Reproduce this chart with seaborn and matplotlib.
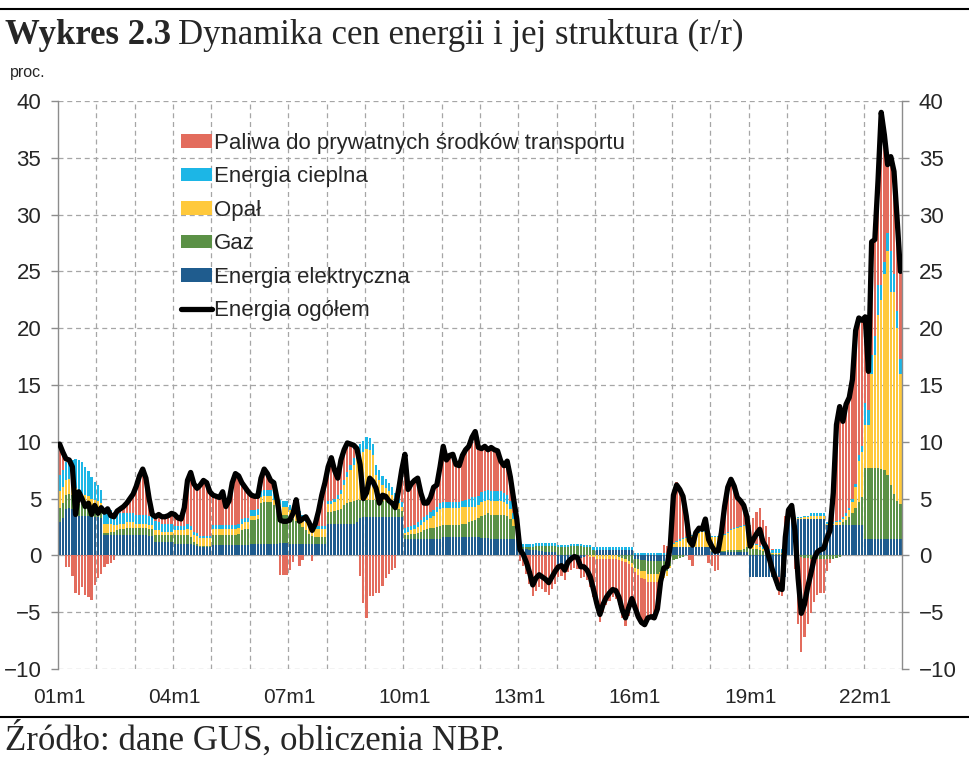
import numpy as np
import pandas as pd
import matplotlib
matplotlib.use("Agg")
import matplotlib.pyplot as plt
import seaborn as sns
from matplotlib.patches import Patch
from matplotlib.lines import Line2D

# monthly data 2001m1 - 2022m12, one row per year
total = [
    9.8, 9.1, 8.5, 8.4, 7.8, 3.6, 5.6, 5.0, 4.3, 4.6, 3.6, 4.4,
    3.7, 4.2, 3.8, 4.1, 3.5, 3.4, 3.9, 4.1, 4.3, 4.6, 5.0, 5.4,
    6.1, 7.0, 7.6, 6.8, 5.0, 3.6, 3.4, 3.6, 3.4, 3.4, 3.5, 3.7,
    3.6, 3.3, 3.2, 4.2, 6.6, 7.3, 6.3, 5.9, 6.2, 6.6, 6.4, 5.6,
    5.3, 5.2, 5.1, 5.6, 4.3, 4.8, 6.4, 7.2, 7.0, 6.4, 6.0, 5.6,
    5.3, 5.2, 5.2, 6.8, 7.6, 7.2, 6.6, 6.4, 5.0, 3.1, 3.0, 3.0,
    3.1, 3.7, 4.9, 3.0, 3.2, 3.4, 2.9, 2.2, 2.8, 3.9, 5.3, 6.4,
    7.8, 8.6, 7.5, 6.8, 8.4, 9.3, 9.9, 9.8, 9.7, 9.4, 8.0, 5.0,
    5.5, 6.8, 6.5, 5.9, 4.6, 5.3, 5.2, 4.8, 4.6, 4.2, 5.7, 7.5,
    8.9, 5.8, 6.3, 6.6, 6.8, 5.5, 4.6, 4.6, 5.1, 6.0, 6.2, 7.8,
    9.6, 8.4, 8.8, 8.9, 8.0, 7.9, 8.8, 9.3, 9.6, 10.4, 10.9, 9.5,
    9.4, 9.6, 9.3, 9.5, 9.3, 9.2, 8.3, 7.9, 8.3, 6.9, 5.0, 3.2,
    0.5, 0.1, -0.6, -1.5, -2.6, -2.0, -1.7, -1.9, -2.1, -2.4, -1.9, -1.4,
    -1.0, -0.9, -1.3, -0.6, -0.3, -0.1, -0.2, -1.0, -1.0, -1.3, -1.9, -3.0,
    -4.2, -5.2, -4.3, -3.7, -3.3, -3.0, -3.1, -3.7, -4.8, -5.5, -4.6, -3.8,
    -4.6, -5.4, -5.9, -6.1, -5.5, -5.4, -5.5, -4.7, -2.3, -1.1, -1.0, 0.8,
    5.3, 6.2, 5.8, 5.2, 3.5, 1.3, 0.9, 2.0, 2.4, 2.3, 3.2, 1.4,
    0.8, 0.35, 0.4, 2.0, 4.3, 6.0, 6.7, 6.1, 5.1, 4.8, 4.4, 3.4,
    0.8, 1.4, 1.9, 2.3, 1.2, 0.7, -0.3, -1.3, -2.1, -2.9, -3.0, 1.6,
    4.0, 4.4, 2.2, -2.0, -5.1, -4.3, -2.8, -1.6, -0.3, 0.3, 0.5, 0.6,
    1.5, 2.2, 5.5, 11.5, 13.1, 11.8, 13.3, 13.9, 15.5, 19.8, 20.9, 20.7,
    21.0, 16.2, 27.6, 27.8, 33.0, 39.0, 37.0, 34.4, 35.1, 33.8, 29.5, 25.0,
]

elektryczna = [
    2.9, 3.3, 4.1, 4.2, 4.1, 3.6, 3.5, 3.5, 3.5, 3.5, 3.4, 3.4,
    3.4, 3.3, 1.8, 1.8, 1.8, 1.8, 1.8, 1.8, 1.8, 1.8, 1.8, 1.8,
    1.8, 1.8, 1.8, 1.8, 1.7, 1.7, 1.2, 1.2, 1.2, 1.2, 1.2, 1.2,
    1.0, 1.0, 1.0, 1.0, 1.0, 1.0, 0.9, 0.8, 0.7, 0.7, 0.7, 0.7,
    0.9, 0.9, 0.9, 0.9, 0.9, 0.9, 0.9, 0.9, 0.9, 0.9, 0.9, 0.9,
    1.0, 1.0, 1.0, 1.0, 1.0, 1.0, 1.0, 1.0, 1.0, 1.1, 1.1, 1.1,
    1.0, 1.0, 1.0, 1.0, 1.0, 1.0, 1.0, 1.0, 1.0, 1.0, 1.0, 1.0,
    2.8, 2.8, 2.8, 2.8, 2.8, 2.8, 2.8, 2.8, 2.8, 2.9, 3.3, 3.4,
    3.4, 3.4, 3.4, 3.4, 3.4, 3.4, 3.4, 3.4, 3.4, 3.4, 3.4, 3.4,
    1.4, 1.4, 1.4, 1.4, 1.4, 1.4, 1.4, 1.4, 1.4, 1.4, 1.4, 1.4,
    1.6, 1.6, 1.6, 1.6, 1.6, 1.6, 1.6, 1.6, 1.6, 1.6, 1.6, 1.6,
    1.5, 1.5, 1.5, 1.4, 1.4, 1.4, 1.4, 1.4, 1.4, 1.4, 1.4, 1.4,
    0.6, 0.6, 0.6, 0.5, 0.5, 0.5, 0.4, 0.4, 0.3, 0.3, 0.3, 0.3,
    -0.8, -0.9, -0.9, -0.9, -0.6, -0.3, -0.2, -0.2, -0.1, 0.0, 0.0, 0.0,
    0.5, 0.5, 0.5, 0.5, 0.5, 0.5, 0.5, 0.5, 0.5, 0.5, 0.5, 0.5,
    -0.3, -0.3, -0.4, -0.4, -0.5, -0.5, -0.5, -0.5, -0.5, -0.5, -0.5, -0.3,
    0.7, 0.7, 0.7, 0.7, 0.7, 0.7, 0.7, 0.7, 0.7, 0.7, 0.7, 0.7,
    0.3, 0.3, 0.3, 0.3, 0.3, 0.3, 0.3, 0.3, 0.3, 0.3, 0.3, 0.3,
    -1.9, -1.9, -1.9, -1.9, -1.9, -1.9, -1.9, -1.9, -1.9, -1.9, -1.9, -1.9,
    3.2, 3.2, 3.2, 3.2, 3.2, 3.2, 3.2, 3.2, 3.2, 3.2, 3.2, 3.2,
    2.7, 2.7, 2.7, 2.7, 2.7, 2.7, 2.7, 2.7, 2.7, 2.7, 2.7, 2.7,
    1.4, 1.4, 1.4, 1.4, 1.4, 1.4, 1.4, 1.4, 1.4, 1.4, 1.4, 1.4,
]

gaz = [
    1.3, 1.3, 1.2, 1.2, 1.2, 1.1, 1.0, 1.0, 1.0, 0.9, 0.9, 0.8,
    0.8, 0.7, 0.2, 0.2, 0.3, 0.3, 0.4, 0.5, 0.5, 0.6, 0.6, 0.6,
    0.6, 0.6, 0.6, 0.6, 0.6, 0.6, 0.6, 0.6, 0.6, 0.6, 0.6, 0.6,
    0.8, 0.8, 0.8, 0.8, 0.8, 0.6, 0.3, 0.2, 0.1, 0.1, 0.1, 0.1,
    0.9, 0.9, 0.9, 0.9, 0.9, 0.9, 0.9, 0.9, 1.0, 1.3, 1.4, 1.4,
    2.1, 2.1, 2.2, 3.6, 3.7, 3.7, 3.7, 3.4, 2.9, 2.6, 2.5, 2.5,
    2.3, 2.2, 2.0, 1.8, 1.5, 1.2, 0.9, 0.7, 0.6, 0.6, 0.6, 0.6,
    1.0, 1.0, 1.1, 1.2, 1.3, 1.6, 1.8, 1.9, 2.0, 2.0, 1.6, 1.5,
    1.5, 1.5, 1.5, 1.5, 1.5, 1.4, 1.4, 1.3, 1.2, 0.9, 0.7, 0.5,
    0.4, 0.4, 0.5, 0.5, 0.6, 0.7, 0.8, 0.9, 1.0, 1.0, 1.1, 1.2,
    1.1, 1.1, 1.1, 1.1, 1.1, 1.1, 1.2, 1.2, 1.3, 1.4, 1.5, 1.7,
    2.0, 2.1, 2.2, 2.2, 2.2, 2.2, 2.2, 2.2, 2.1, 1.8, 1.2, 1.0,
    0.1, 0.1, 0.1, 0.2, 0.2, 0.3, 0.4, 0.4, 0.5, 0.5, 0.5, 0.5,
    0.7, 0.7, 0.7, 0.7, 0.8, 0.8, 0.8, 0.8, 0.7, 0.7, 0.7, 0.5,
    0.0, 0.0, 0.0, 0.0, 0.0, 0.0, 0.0, -0.1, -0.2, -0.3, -0.5, -0.7,
    -0.8, -0.9, -1.0, -1.0, -1.1, -1.1, -1.1, -1.1, -1.0, -1.0, -0.9, -0.6,
    -0.4, -0.3, -0.2, -0.1, 0.0, 0.0, 0.0, 0.0, 0.0, 0.0, 0.0, 0.0,
    0.1, 0.1, 0.1, 0.1, 0.1, 0.2, 0.2, 0.2, 0.2, 0.2, 0.3, 0.4,
    0.6, 0.6, 0.6, 0.5, 0.4, 0.3, 0.2, 0.1, 0.1, 0.1, 0.1, 0.1,
    0.0, 0.0, 0.0, 0.0, -0.1, -0.2, -0.2, -0.3, -0.3, -0.3, -0.3, -0.3,
    -0.3, -0.3, -0.3, -0.2, -0.1, 0.2, 0.4, 0.7, 1.0, 1.5, 2.0, 2.4,
    6.3, 6.3, 6.3, 6.3, 6.3, 6.2, 6.1, 5.7, 4.8, 4.0, 3.4, 3.1,
]

opal = [
    1.5, 1.4, 1.3, 1.3, 1.3, 1.2, 0.9, 0.9, 0.8, 0.8, 0.7, 0.7,
    0.6, 0.6, 0.8, 0.8, 0.7, 0.6, 0.5, 0.5, 0.5, 0.5, 0.5, 0.5,
    0.4, 0.4, 0.4, 0.4, 0.4, 0.4, 0.4, 0.4, 0.3, 0.3, 0.3, 0.3,
    0.4, 0.4, 0.4, 0.4, 0.5, 0.6, 0.6, 0.7, 0.7, 0.7, 0.7, 0.7,
    0.5, 0.5, 0.5, 0.5, 0.5, 0.5, 0.5, 0.5, 0.5, 0.6, 0.6, 0.6,
    0.4, 0.4, 0.4, 0.5, 0.5, 0.5, 0.5, 0.5, 0.6, 0.7, 0.7, 0.7,
    0.7, 0.7, 0.7, 0.7, 0.7, 0.7, 0.7, 0.7, 0.7, 0.7, 0.7, 0.7,
    0.7, 0.7, 0.8, 1.0, 1.3, 1.8, 2.3, 2.8, 3.2, 3.6, 4.0, 4.2,
    4.5, 4.4, 3.9, 2.2, 1.7, 1.4, 1.1, 1.0, 0.7, 0.6, 0.5, 0.4,
    0.2, 0.3, 0.3, 0.4, 0.5, 0.6, 0.7, 0.8, 0.9, 1.1, 1.3, 1.5,
    1.5, 1.5, 1.5, 1.5, 1.5, 1.5, 1.5, 1.5, 1.4, 1.3, 1.2, 1.1,
    1.2, 1.2, 1.2, 1.2, 1.2, 1.2, 1.2, 1.1, 1.0, 0.9, 0.6, 0.4,
    0.0, 0.0, 0.0, 0.0, 0.0, 0.0, 0.0, 0.0, 0.0, 0.0, 0.0, 0.0,
    0.0, 0.0, 0.0, 0.0, 0.0, 0.0, 0.0, 0.0, 0.0, 0.0, -0.1, -0.1,
    -0.3, -0.3, -0.3, -0.3, -0.3, -0.3, -0.3, -0.3, -0.3, -0.3, -0.3, -0.3,
    -0.4, -0.5, -0.6, -0.7, -0.7, -0.7, -0.7, -0.7, -0.6, -0.5, -0.4, -0.2,
    0.3, 0.5, 0.6, 0.7, 0.8, 0.9, 1.0, 1.2, 1.3, 1.4, 1.4, 1.3,
    1.2, 1.2, 1.2, 1.3, 1.4, 1.5, 1.7, 1.8, 1.9, 2.0, 2.0, 1.5,
    0.4, 0.3, 0.3, 0.2, 0.2, 0.1, 0.1, 0.1, 0.1, 0.1, 0.1, 0.1,
    0.0, 0.0, 0.0, 0.1, 0.1, 0.2, 0.2, 0.3, 0.3, 0.3, 0.3, 0.3,
    0.1, 0.1, 0.1, 0.2, 0.2, 0.3, 0.4, 0.6, 1.0, 1.8, 3.6, 4.0,
    3.8, 3.8, 8.3, 9.9, 13.5, 14.9, 17.3, 19.7, 17.0, 17.8, 15.2, 11.5,
]

cieplna = [
    1.4, 1.5, 1.6, 1.7, 1.8, 2.6, 3.0, 2.8, 2.5, 2.2, 1.9, 1.6,
    1.4, 1.2, 1.3, 1.3, 1.2, 1.1, 1.0, 0.9, 0.9, 0.8, 0.8, 0.8,
    0.8, 0.8, 0.8, 0.8, 0.8, 0.8, 0.8, 0.7, 0.7, 0.7, 0.7, 0.7,
    0.4, 0.4, 0.4, 0.4, 0.5, 0.4, 0.3, 0.3, 0.2, 0.2, 0.2, 0.2,
    0.4, 0.4, 0.4, 0.4, 0.4, 0.4, 0.4, 0.4, 0.4, 0.4, 0.4, 0.4,
    0.5, 0.5, 0.5, 0.6, 0.6, 0.6, 0.6, 0.6, 0.5, 0.5, 0.5, 0.5,
    0.4, 0.4, 0.4, 0.4, 0.4, 0.3, 0.3, 0.3, 0.3, 0.3, 0.3, 0.3,
    0.3, 0.3, 0.3, 0.3, 0.4, 0.4, 0.4, 0.5, 0.6, 0.8, 0.9, 1.0,
    1.0, 1.0, 1.0, 0.9, 0.9, 0.8, 0.8, 0.7, 0.7, 0.6, 0.5, 0.4,
    0.4, 0.4, 0.4, 0.4, 0.4, 0.4, 0.5, 0.5, 0.5, 0.5, 0.5, 0.5,
    0.5, 0.5, 0.5, 0.5, 0.5, 0.5, 0.5, 0.6, 0.7, 0.8, 0.8, 0.8,
    0.9, 0.9, 0.9, 0.9, 0.9, 0.9, 0.9, 0.8, 0.8, 0.7, 0.5, 0.4,
    0.3, 0.3, 0.3, 0.3, 0.3, 0.3, 0.3, 0.3, 0.3, 0.3, 0.3, 0.3,
    0.2, 0.2, 0.2, 0.2, 0.2, 0.2, 0.2, 0.2, 0.2, 0.2, 0.2, 0.2,
    0.2, 0.2, 0.2, 0.2, 0.2, 0.2, 0.2, 0.2, 0.2, 0.2, 0.2, 0.2,
    0.2, 0.2, 0.2, 0.2, 0.2, 0.2, 0.2, 0.2, 0.2, 0.2, 0.2, 0.2,
    0.1, 0.1, 0.1, 0.1, 0.1, 0.1, 0.1, 0.1, 0.1, 0.1, 0.1, 0.1,
    0.1, 0.1, 0.1, 0.1, 0.1, 0.1, 0.1, 0.1, 0.1, 0.1, 0.1, 0.1,
    0.1, 0.1, 0.1, 0.1, 0.2, 0.2, 0.3, 0.3, 0.4, 0.4, 0.4, 0.4,
    0.1, 0.1, 0.1, 0.1, 0.1, 0.1, 0.1, 0.2, 0.2, 0.2, 0.2, 0.2,
    0.1, 0.1, 0.1, 0.1, 0.2, 0.2, 0.2, 0.2, 0.3, 0.3, 0.5, 0.5,
    1.9, 1.3, 1.6, 1.7, 2.6, 1.3, 1.0, 1.6, 3.6, 1.6, 1.5, 1.3,
]

paliwa = [
    2.7, 1.6, -1.0, -1.0, -1.8, -3.3, -3.5, -2.8, -3.5, -3.7, -3.9, -2.6,
    -2.0, -1.6, -1.0, -0.8, -0.7, -0.4, 0.2, 0.4, 0.6, 0.9, 1.3, 1.7,
    2.5, 3.4, 4.0, 3.2, 1.5, 0.1, 0.4, 0.7, 0.6, 0.6, 0.7, 0.9,
    1.0, 0.7, 0.6, 1.6, 3.8, 4.7, 4.2, 3.9, 4.5, 4.9, 4.7, 3.9,
    2.6, 2.5, 2.4, 2.9, 1.6, 2.1, 3.7, 4.5, 4.2, 3.2, 2.7, 2.3,
    1.3, 1.2, 1.1, 1.1, 1.8, 1.4, 0.8, 0.9, 0.0, -1.7, -1.7, -1.7,
    -1.3, -0.6, 0.8, -0.9, -0.4, 0.2, 0.0, -0.5, 0.2, 1.3, 2.7, 3.8,
    3.0, 3.8, 2.5, 1.5, 2.6, 2.7, 2.6, 1.8, 1.1, 0.1, -1.8, -4.2,
    -5.5, -3.6, -3.6, -3.3, -3.3, -2.7, -2.0, -1.6, -1.3, -1.1, 0.6, 2.8,
    6.5, 3.3, 3.7, 3.9, 3.9, 2.4, 1.2, 1.0, 1.3, 2.0, 1.9, 3.2,
    4.9, 3.7, 4.1, 4.2, 3.3, 3.2, 4.0, 4.4, 4.6, 5.3, 5.8, 4.3,
    3.8, 3.9, 3.5, 3.8, 3.6, 3.5, 2.6, 2.4, 3.0, 2.1, 1.3, 0.0,
    -0.5, -0.9, -1.6, -2.5, -3.6, -3.1, -2.8, -3.0, -3.2, -3.5, -3.0, -2.5,
    -1.1, -0.9, -1.3, -0.6, -0.7, -0.8, -1.0, -1.8, -1.8, -2.2, -2.7, -3.6,
    -4.6, -5.6, -4.7, -4.1, -3.7, -3.4, -3.5, -4.0, -5.0, -5.6, -4.5, -3.5,
    -3.3, -3.9, -4.1, -4.2, -3.4, -3.3, -3.4, -2.6, -0.4, 0.7, 0.6, 1.7,
    4.6, 5.2, 4.6, 3.8, 1.9, -0.4, -0.9, 0.0, 0.3, 0.1, 1.0, -0.7,
    -0.9, -1.35, -1.3, 0.2, 2.4, 3.9, 4.4, 3.7, 2.6, 2.2, 1.7, 1.1,
    1.6, 2.3, 2.8, 3.4, 2.3, 2.0, 1.0, 0.1, -0.8, -1.6, -1.7, 2.9,
    0.7, 1.1, -1.2, -6.0, -8.4, -7.0, -5.8, -4.8, -3.8, -3.2, -3.0, -3.0,
    -1.1, -0.4, 2.9, 8.7, 10.1, 8.4, 9.6, 9.7, 10.5, 13.5, 12.1, 11.1,
    7.6, 3.4, 10.0, 8.5, 9.2, 15.2, 11.2, 6.0, 8.3, 9.0, 8.0, 7.7,
]

tick_labels = ["01m1", "04m1", "07m1", "10m1", "13m1", "16m1", "19m1", "22m1"]

# stacking order from the axis outwards, and legend order
series = [
    ("Energia elektryczna", elektryczna, "#1F5C8E"),
    ("Gaz", gaz, "#5B9146"),
    ("Opał", opal, "#FFC93C"),
    ("Energia cieplna", cieplna, "#1CB6E6"),
    ("Paliwa do prywatnych środków transportu", paliwa, "#E36C5D"),
]

n = len(total)
x = np.arange(n)
df = pd.DataFrame({"m": x, "total": total})

sns.set_theme(style="white")
plt.rcParams["font.family"] = ["Liberation Sans", "DejaVu Sans"]

fig = plt.figure(figsize=(9.7, 7.59), dpi=100)
ax = fig.add_axes([58 / 970, 1 - 669 / 759, 844 / 970, 568 / 759])

pos_base = np.zeros(n)
neg_base = np.zeros(n)
for name, vals, color in series:
    v = np.array(vals, dtype=float)
    p = np.where(v > 0, v, 0.0)
    q = np.where(v < 0, v, 0.0)
    ax.bar(x, p, bottom=pos_base, width=0.72, color=color, linewidth=0, zorder=2)
    ax.bar(x, q, bottom=neg_base, width=0.72, color=color, linewidth=0, zorder=2)
    pos_base += p
    neg_base += q

sns.lineplot(data=df, x="m", y="total", ax=ax, color="black", linewidth=3.8,
             zorder=4, legend=False)

ax.set_xlim(-0.5, n - 0.5)
ax.set_ylim(-10, 40)
ax.set_yticks(range(-10, 41, 5))
ax.set_xticks(range(0, n, 36))
ax.set_xticklabels(tick_labels)
ax.set_xticks(np.arange(11.5, n - 1, 12), minor=True)
ax.set_xlabel("")
ax.set_ylabel("")

grid_kw = dict(color="#A6A6A6", linestyle=(0, (4, 3)), linewidth=0.9)
ax.yaxis.grid(True, **grid_kw)
ax.xaxis.grid(True, which="minor", **grid_kw)
ax.xaxis.grid(False, which="major")
ax.axhline(0, color="#A6A6A6", linewidth=0.8, zorder=1)
ax.set_axisbelow(True)

for side in ["top", "bottom"]:
    ax.spines[side].set_visible(False)
for side in ["left", "right"]:
    ax.spines[side].set_visible(True)
    ax.spines[side].set_color("#8C8C8C")
    ax.spines[side].set_linewidth(1.0)

ax.tick_params(axis="y", which="major", left=True, right=True, labelleft=True,
               labelright=True, direction="out", length=5, width=1,
               color="#8C8C8C", labelsize=16, pad=7)
ax.tick_params(axis="x", which="both", length=0, labelsize=15, pad=14)

handles = [Patch(facecolor=c, edgecolor="none", label=nm) for nm, _, c in series[::-1]]
handles.append(Line2D([0], [0], color="black", linewidth=3.8, label="Energia ogółem"))
ax.legend(handles=handles, loc="upper left", frameon=False,
          bbox_to_anchor=(181 / 970, 1 - 133 / 759), bbox_transform=fig.transFigure,
          borderpad=0, borderaxespad=0, fontsize=16, handlelength=1.4,
          handleheight=0.55, handletextpad=0.1, labelspacing=0.56)

# header, unit and source
fig.add_artist(Line2D([0, 1], [1 - 9 / 759, 1 - 9 / 759], color="black", linewidth=1.5))
t1 = fig.text(5 / 970, 1 - 35 / 759, "Wykres 2.3", fontsize=25, fontweight="bold",
              family="Liberation Serif", va="center", ha="left")
fig.canvas.draw()
bb = t1.get_window_extent(renderer=fig.canvas.get_renderer())
fig.text((bb.x1 + 7) / 970, 1 - 35 / 759, "Dynamika cen energii i jej struktura (r/r)",
         fontsize=25, family="Liberation Serif", va="center", ha="left")
fig.text(10 / 970, 1 - 72 / 759, "proc.", fontsize=11.5, va="center", ha="left")

fig.add_artist(Line2D([0, 1], [1 - 717 / 759, 1 - 717 / 759], color="black", linewidth=1.5))
fig.text(5 / 970, 1 - 740 / 759, "Źródło: dane GUS, obliczenia NBP.", fontsize=25,
         family="Liberation Serif", va="center", ha="left")

fig.savefig("out.png", dpi=100)
